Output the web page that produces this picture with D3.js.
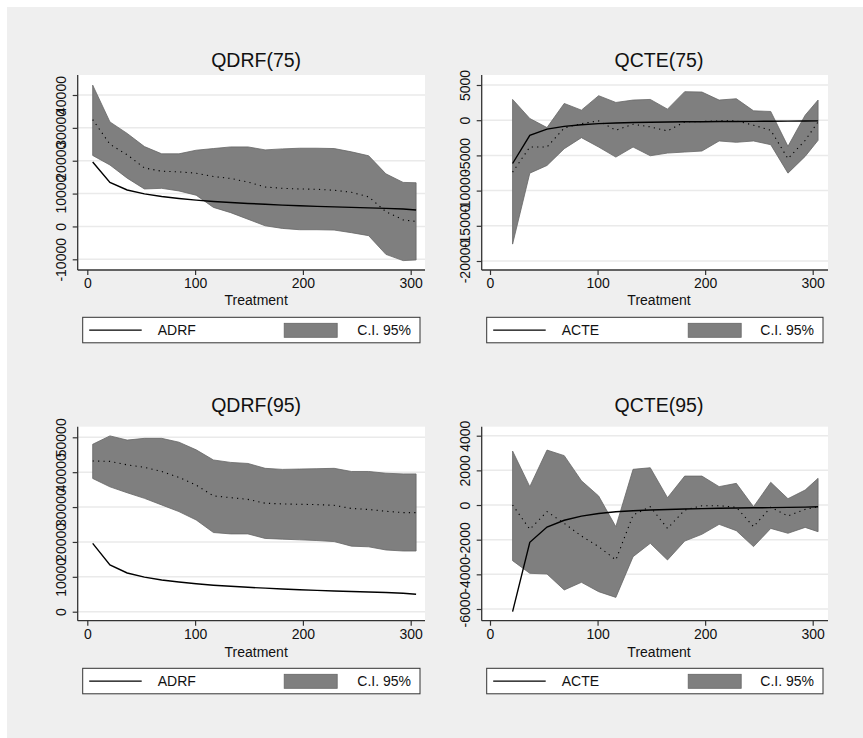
<!DOCTYPE html>
<html><head><meta charset="utf-8">
<script src="https://cdn.jsdelivr.net/npm/d3@7"></script>
<style>body{margin:0;background:#fff}text{font-family:"Liberation Sans",Arial,sans-serif;fill:#111}</style>
</head><body><svg id="c" width="863" height="738"></svg>
<script>
const treatment = [5,21,37,53,69,85,101,117,133,149,165,181,197,213,229,245,261,277,293,305];
const cteTreatment = treatment.slice(1);
const xTicks = [0,100,200,300];

const adrf = [19600,13400,11100,9900,9100,8500,8000,7600,7300,7000,6750,6500,6300,6100,5950,5800,5650,5500,5300,5000];
const acte = [-6150,-2150,-1270,-880,-640,-490,-390,-330,-290,-260,-230,-210,-190,-175,-160,-150,-135,-120,-100];

const qdrf75   = [32500,25000,21800,17800,16800,16600,16200,15200,14600,13500,12000,11600,11400,11300,11000,10400,9000,4500,2000,1500];
const qdrf75Lo = [21600,18700,14700,11400,11600,10800,9500,5800,4200,2200,200,-600,-1000,-1000,-1100,-1900,-2800,-8500,-10400,-10200];
const qdrf75Hi = [43000,31800,28300,24300,22100,22100,23200,23700,24200,24200,23300,23600,23800,23800,23700,22700,21500,16000,13400,13300];

const qcte75   = [-7380,-3810,-3810,-1100,-480,-100,-1430,-570,-950,-1520,-240,-190,-100,-100,-710,-1430,-5470,-2860,-240];
const qcte75Lo = [-17600,-7520,-6430,-4050,-2480,-3810,-5240,-3810,-5050,-4670,-4520,-4380,-2950,-3140,-2950,-3480,-7520,-5140,-2860];
const qcte75Hi = [2950,240,-1050,2380,1430,3480,2520,2860,2950,1570,4050,4000,2860,3050,1330,1240,-3710,710,2860];

const qdrf95   = [43200,43100,42100,41400,40200,38500,36300,33200,32700,32200,31100,30900,30800,30700,30500,29600,29300,28800,28400,28400];
const qdrf95Lo = [38200,35800,34100,32500,30600,28700,26300,22700,22300,22300,21000,20800,20600,20400,20100,18800,18600,17700,17400,17400];
const qdrf95Hi = [48000,50400,49200,49700,49700,48600,46400,43500,42800,42500,41100,40800,40900,41000,41100,40200,40200,39700,39500,39500];

const qcte95   = [0,-1400,-380,-1060,-1790,-2400,-3170,-580,-100,-1350,-290,-40,-40,-130,-1250,-130,-630,-250,-100];
const qcte95Lo = [-3210,-3940,-3980,-4900,-4460,-5000,-5330,-2980,-2210,-3170,-2080,-1690,-1115,-1480,-2400,-1350,-1630,-1290,-1540];
const qcte95Hi = [3115,1060,3170,2850,1400,520,-1250,2060,2150,420,1670,1670,1060,1250,-100,1310,365,865,1540];

const drfTicks75 = [-10000,0,10000,20000,30000,40000];
const cteTicks75 = [-20000,-15000,-10000,-5000,0,5000];
const drfTicks95 = [0,10000,20000,30000,40000,50000];
const cteTicks95 = [-6000,-4000,-2000,0,2000,4000];

const svg = d3.select("#c");
svg.append("rect").attr("x",7).attr("y",7).attr("width",856).attr("height",731).attr("fill","#efefef");

const panels = [
  {title:"QDRF(75)", x:treatment, mid:qdrf75, lo:qdrf75Lo, hi:qdrf75Hi, line:adrf, lineName:"ADRF", ticks:drfTicks75,
   box:[77.7,75,425,270], xr:[87.3,410.7], yr:[259.3,95], titleY:60, labY:300, legY:317.3},
  {title:"QCTE(75)", x:cteTreatment, mid:qcte75, lo:qcte75Lo, hi:qcte75Hi, line:acte, lineName:"ACTE", ticks:cteTicks75,
   box:[481.7,75,828,270], xr:[490,812.7], yr:[261,85], titleY:60, labY:300, legY:317.3},
  {title:"QDRF(95)", x:treatment, mid:qdrf95, lo:qdrf95Lo, hi:qdrf95Hi, line:adrf, lineName:"ADRF", ticks:drfTicks95,
   box:[77.7,426.7,425,620.7], xr:[87.3,410.7], yr:[611.7,437.3], titleY:405, labY:651.7, legY:668.3},
  {title:"QCTE(95)", x:cteTreatment, mid:qcte95, lo:qcte95Lo, hi:qcte95Hi, line:acte, lineName:"ACTE", ticks:cteTicks95,
   box:[481.7,426.7,828,620.7], xr:[490,812.7], yr:[609,435.7], titleY:405, labY:651.7, legY:668.3}
];

const fmt = d => String(d);

panels.forEach(p=>{
  const [bx0,by0,bx1,by1]=p.box;
  const xs=d3.scaleLinear().domain([0,300]).range(p.xr);
  const ys=d3.scaleLinear().domain([p.ticks[0],p.ticks[p.ticks.length-1]]).range(p.yr);
  const g=svg.append("g");
  g.append("rect").attr("x",bx0).attr("y",by0).attr("width",bx1-bx0).attr("height",by1-by0).attr("fill","#fff");
  g.selectAll(".grid").data(p.ticks).enter().append("line")
    .attr("x1",bx0).attr("x2",bx1).attr("y1",d=>ys(d)).attr("y2",d=>ys(d))
    .attr("stroke","#eaeaea").attr("stroke-width",1.5);
  const idx=d3.range(p.x.length);
  const area=d3.area().x(i=>xs(p.x[i])).y0(i=>ys(p.lo[i])).y1(i=>ys(p.hi[i]));
  g.append("path").datum(idx).attr("d",area).attr("fill","#7f7f7f").attr("stroke","#666").attr("stroke-width",0.8);
  const lmid=d3.line().x(i=>xs(p.x[i])).y(i=>ys(p.mid[i]));
  g.append("path").datum(idx).attr("d",lmid).attr("fill","none").attr("stroke","#000").attr("stroke-width",1.1).attr("stroke-dasharray","1.2,4.2");
  const lline=d3.line().x(i=>xs(p.x[i])).y(i=>ys(p.line[i]));
  g.append("path").datum(idx).attr("d",lline).attr("fill","none").attr("stroke","#000").attr("stroke-width",1.4);
  const yAx=g.append("g").attr("transform",`translate(${bx0},0)`)
    .call(d3.axisLeft(ys).tickValues(p.ticks).tickSize(5).tickFormat(fmt));
  yAx.select(".domain").attr("d",`M0,${by0}V${by1}`).attr("stroke","#333").attr("stroke-width",1.3);
  yAx.selectAll(".tick line").attr("stroke","#333").attr("stroke-width",1.2);
  yAx.selectAll(".tick text").attr("x",null).attr("dy",null).attr("text-anchor","middle")
    .attr("transform","translate(-17,0) rotate(-90)").attr("dominant-baseline","central")
    .style("font-family",'"Liberation Sans",Arial,sans-serif').style("font-size","14px").attr("fill","#111");
  const xAx=g.append("g").attr("transform",`translate(0,${by1})`)
    .call(d3.axisBottom(xs).tickValues(xTicks).tickSize(5).tickFormat(fmt));
  xAx.select(".domain").attr("d",`M${bx0},0H${bx1}`).attr("stroke","#333").attr("stroke-width",1.3);
  xAx.selectAll(".tick line").attr("stroke","#333").attr("stroke-width",1.2);
  xAx.selectAll(".tick text").attr("y",8.5).attr("dy","0.71em")
    .style("font-family",'"Liberation Sans",Arial,sans-serif').style("font-size","14px").attr("fill","#111");
  const cx=(bx0+bx1)/2+0.5*((p.xr[0]-bx0));
  g.append("text").attr("x",cx).attr("y",p.titleY).attr("text-anchor","middle").attr("dominant-baseline","central")
    .style("font-size","19.5px").text(p.title);
  g.append("text").attr("x",cx).attr("y",p.labY).attr("text-anchor","middle").attr("dominant-baseline","central")
    .style("font-size","14px").text("Treatment");
  const lx0=bx0+5, lx1=bx1-5, ly=p.legY, lh=25.5;
  const lg=g.append("g");
  lg.append("rect").attr("x",lx0).attr("y",ly).attr("width",lx1-lx0).attr("height",lh).attr("fill","#fff").attr("stroke","#333").attr("stroke-width",1);
  lg.append("line").attr("x1",lx0+6.5).attr("x2",lx0+59).attr("y1",ly+lh/2).attr("y2",ly+lh/2).attr("stroke","#000").attr("stroke-width",1.2);
  lg.append("text").attr("x",lx0+75).attr("y",ly+lh/2).attr("dominant-baseline","central").style("font-size","14px").text(p.lineName);
  lg.append("rect").attr("x",lx0+201.5).attr("y",ly+6).attr("width",53).attr("height",14).attr("fill","#7f7f7f").attr("stroke","#666").attr("stroke-width",0.8);
  lg.append("text").attr("x",lx1-9).attr("y",ly+lh/2).attr("text-anchor","end").attr("dominant-baseline","central").style("font-size","14px").text("C.I. 95%");
});
</script></body></html>
